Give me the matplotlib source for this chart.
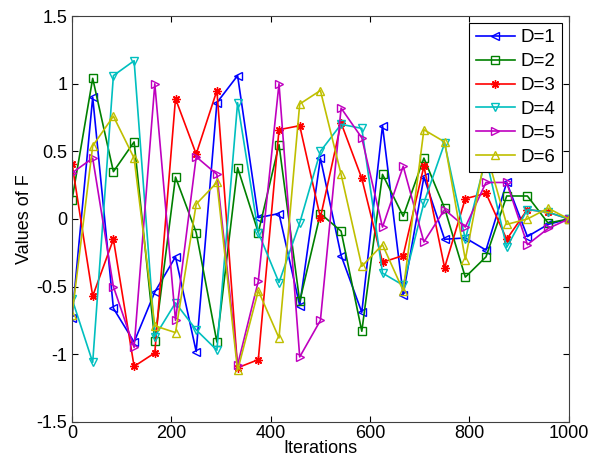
import matplotlib
matplotlib.use('Agg')
import matplotlib.pyplot as plt
import numpy as np

plt.rcParams['font.family'] = ['Liberation Sans', 'DejaVu Sans']

# 25 samples between 0 and 1000 iterations
iterations = np.linspace(0, 1000, 25)

d1 = [-0.73, 0.90, -0.66, -0.91, -0.54, -0.28, -0.98, 0.86, 1.06, 0.01, 0.04, -0.64, 0.45,
      -0.27, -0.69, 0.69, -0.56, 0.31, -0.15, -0.14, -0.23, 0.27, -0.13, -0.04, 0.0]
d2 = [0.14, 1.04, 0.35, 0.57, -0.90, 0.31, -0.10, -0.91, 0.38, -0.10, 0.55, -0.61, 0.04,
      -0.09, -0.83, 0.33, 0.02, 0.45, 0.08, -0.43, -0.28, 0.17, 0.17, -0.03, 0.0]
d3 = [0.41, -0.57, -0.15, -1.09, -0.99, 0.89, 0.48, 0.95, -1.10, -1.04, 0.66, 0.69, 0.01,
      0.71, 0.30, -0.32, -0.27, 0.39, -0.36, 0.15, 0.19, -0.15, 0.07, 0.05, 0.0]
d4 = [-0.59, -1.06, 1.06, 1.17, -0.87, -0.62, -0.82, -0.97, 0.86, -0.10, -0.47, -0.03, 0.50,
      0.70, 0.67, -0.40, -0.49, 0.12, 0.56, -0.15, 0.45, -0.21, 0.07, 0.05, 0.0]
d5 = [0.34, 0.45, -0.50, -0.95, 1.00, -0.75, 0.46, 0.33, -1.08, -0.46, 1.00, -1.02, -0.75,
      0.82, 0.60, -0.06, 0.39, -0.17, 0.07, -0.06, 0.27, 0.27, -0.19, -0.07, 0.0]
d6 = [-0.71, 0.54, 0.76, 0.45, -0.79, -0.84, 0.11, 0.27, -1.12, -0.53, -0.88, 0.85, 0.95,
      0.33, -0.35, -0.19, -0.53, 0.66, 0.57, -0.30, 0.50, -0.04, 0.0, 0.08, 0.0]

series = [d1, d2, d3, d4, d5, d6]
labels = ['D=1', 'D=2', 'D=3', 'D=4', 'D=5', 'D=6']
colors = ['#0000ff', '#008000', '#ff0000', '#00bfbf', '#bf00bf', '#bfbf00']
markers = ['<', 's', (8, 2, 0), 'v', '>', '^']

fig = plt.figure(figsize=(6.0, 4.74), dpi=100)
ax = fig.add_axes([0.12, 0.110, 0.828, 0.856])

for vals, lbl, c, m in zip(series, labels, colors, markers):
    ax.plot(iterations, vals, color=c, marker=m, markersize=6, linewidth=1.2,
            markerfacecolor='none', markeredgecolor=c, markeredgewidth=1.0, label=lbl)

ax.set_xlim(0, 1000)
ax.set_ylim(-1.5, 1.5)
ax.set_xticks([0, 200, 400, 600, 800, 1000])
ax.set_yticks([-1.5, -1, -0.5, 0, 0.5, 1, 1.5])
ax.set_yticklabels(['-1.5', '-1', '-0.5', '0', '0.5', '1', '1.5'])
ax.tick_params(direction='in', top=True, right=True, labelsize=13, length=4)
ax.tick_params(axis='x', pad=2)
for sp in ax.spines.values():
    sp.set_color('#404040')
ax.set_xlabel('Iterations', fontsize=13, labelpad=-1)
ax.set_ylabel('Values of F', fontsize=13, labelpad=2)

leg = ax.legend(loc='upper right', fontsize=13.5, frameon=True, fancybox=False,
                edgecolor='black', framealpha=1.0, handlelength=2.1,
                borderaxespad=0.35, borderpad=0.35, labelspacing=0.36, handletextpad=0.3)
leg.get_frame().set_linewidth(0.8)

plt.savefig('out.png', dpi=100)
